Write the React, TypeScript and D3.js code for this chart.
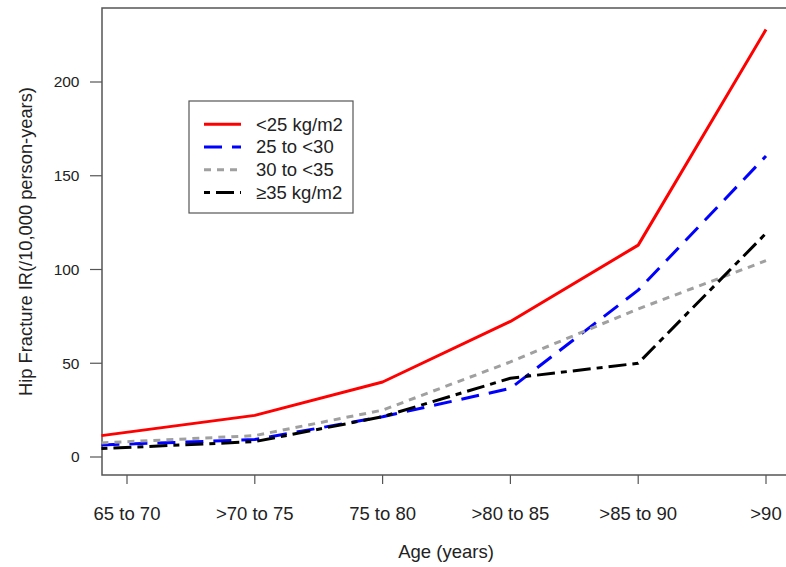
import { useEffect, useRef } from "react";
import * as d3 from "d3";

// age groups on the x axis
const ageGroups = ["65 to 70", ">70 to 75", "75 to 80", ">80 to 85", ">85 to 90", ">90"];
// x index of each plotted point (first point sits on the left edge of the plot)
const pointIndex = [-0.2, 1, 2, 3, 4, 5];

const bmiUnder25 = [11.4, 22.2, 40, 72.3, 113, 228];
const bmi25to30 = [6.4, 9.3, 21.5, 36.6, 89, 160.5];
const bmi30to35 = [7.5, 11.4, 25, 50.7, 79, 104.7];
const bmi35plus = [4.5, 8.2, 21.5, 42, 50, 119.3];

const yTicks = [0, 50, 100, 150, 200];

const seriesNames = ["<25 kg/m2", "25 to <30", "30 to <35", "\u226535 kg/m2"];

const App = () => {
    const svgRef = useRef(null);

    useEffect(() => {
        if (!svgRef.current) return;
        const svg = d3.select(svgRef.current);
        svg.selectAll("*").remove();

        const W = 786, H = 567;
        const left = 102, top = 8, bottom = 475, right = 790;

        const x = d3.scaleLinear().domain([0, 5]).range([127, 766]);
        const y = d3.scaleLinear().domain([0, 200]).range([457, 82]);

        const font = "'Liberation Sans', Arial, sans-serif";
        const ink = "#222";

        svg.attr("width", W).attr("height", H).style("background", "#fff");

        // plot frame (left, top, bottom)
        svg.append("path")
            .attr("d", `M${right},${top}H${left}V${bottom}H${right}`)
            .attr("fill", "none")
            .attr("stroke", "#555")
            .attr("stroke-width", 1.5);

        // y axis ticks
        const yAx = svg.append("g");
        yTicks.forEach((t) => {
            yAx.append("line")
                .attr("x1", left - 12).attr("x2", left)
                .attr("y1", y(t)).attr("y2", y(t))
                .attr("stroke", "#555").attr("stroke-width", 1.2);
            yAx.append("text")
                .attr("x", 79.5).attr("y", y(t))
                .attr("dy", "0.35em")
                .attr("text-anchor", "end")
                .style("font-family", font)
                .style("font-size", "15.5px")
                .attr("fill", ink)
                .text(t);
        });

        // x axis ticks
        const xAx = svg.append("g");
        ageGroups.forEach((g, i) => {
            xAx.append("line")
                .attr("x1", x(i)).attr("x2", x(i))
                .attr("y1", bottom).attr("y2", bottom + 9)
                .attr("stroke", "#555").attr("stroke-width", 1.2);
            xAx.append("text")
                .attr("x", x(i)).attr("y", 514)
                .attr("dy", "0.35em")
                .attr("text-anchor", "middle")
                .style("font-family", font)
                .style("font-size", "18.5px")
                .attr("fill", ink)
                .text(g);
        });

        // axis titles
        svg.append("text")
            .attr("x", (left + right) / 2).attr("y", 552)
            .attr("dy", "0.35em")
            .attr("text-anchor", "middle")
            .style("font-family", font)
            .style("font-size", "18.5px")
            .attr("fill", ink)
            .text("Age (years)");

        svg.append("text")
            .attr("transform", `translate(25.5, ${(top + bottom) / 2}) rotate(-90)`)
            .attr("dy", "0.35em")
            .attr("text-anchor", "middle")
            .style("font-family", font)
            .style("font-size", "18.3px")
            .attr("fill", ink)
            .text("Hip Fracture IR(/10,000 person-years)");

        const series = [
            { values: bmiUnder25, color: "#ff0000", dash: null },
            { values: bmi25to30, color: "#0000ff", dash: "18,10" },
            { values: bmi30to35, color: "#a0a0a0", dash: "7,6" },
            { values: bmi35plus, color: "#000000", dash: "6,6,18,6" },
        ];

        const line = d3.line<number>()
            .x((d, i) => x(pointIndex[i]))
            .y((d) => y(d));

        series.forEach((s) => {
            svg.append("path")
                .datum(s.values)
                .attr("d", line)
                .attr("fill", "none")
                .attr("stroke", s.color)
                .attr("stroke-width", 3)
                .attr("stroke-dasharray", s.dash)
                .attr("stroke-linejoin", "round");
        });

        // legend
        const lg = svg.append("g");
        lg.append("rect")
            .attr("x", 189).attr("y", 101)
            .attr("width", 164).attr("height", 112)
            .attr("fill", "#fff")
            .attr("stroke", "#555")
            .attr("stroke-width", 1.2);
        series.forEach((s, i) => {
            const ly = 124.3 + i * 22.7;
            lg.append("line")
                .attr("x1", 204).attr("x2", 241)
                .attr("y1", ly).attr("y2", ly)
                .attr("stroke", s.color)
                .attr("stroke-width", 3)
                .attr("stroke-dasharray", s.dash);
            lg.append("text")
                .attr("x", 256).attr("y", ly)
                .attr("dy", "0.35em")
                .style("font-family", font)
                .style("font-size", "18.5px")
                .attr("fill", ink)
                .text(seriesNames[i]);
        });
    }, []);

    return (
        <div style={{ position: "absolute", left: 0, top: 0 }}>
            <svg ref={svgRef}></svg>
        </div>
    );
};

export default App;
